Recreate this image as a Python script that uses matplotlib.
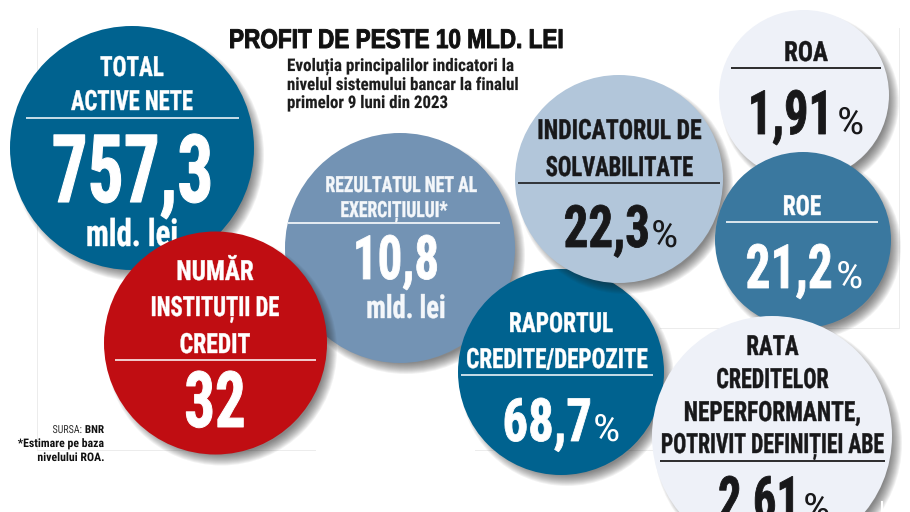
import matplotlib
matplotlib.use("Agg")
import matplotlib.pyplot as plt
from matplotlib.patches import Circle
from matplotlib.patheffects import AbstractPathEffect
from matplotlib.transforms import Affine2D

# text of the bubbles
total_title = ["TOTAL", "ACTIVE NETE"]
total_value = "757,3"
total_unit = "mld. lei"
rezultat_title = ["REZULTATUL NET AL", "EXERCIȚIULUI*"]
rezultat_value = "10,8"
rezultat_unit = "mld. lei"
institutii_title = ["NUMĂR", "INSTITUȚII DE", "CREDIT"]
institutii_value = "32"
solv_title = ["INDICATORUL DE", "SOLVABILITATE"]
solv_value = "22,3"
roa_title = "ROA"
roa_value = "1,91"
roe_title = "ROE"
roe_value = "21,2"
raport_title = ["RAPORTUL", "CREDITE/DEPOZITE"]
raport_value = "68,7"
rata_title = ["RATA", "CREDITELOR", "NEPERFORMANTE,", "POTRIVIT DEFINIȚIEI ABE"]
rata_value = "2,61"

title = "PROFIT DE PESTE 10 MLD. LEI"
subtitle = ["Evoluția principalilor indicatori la",
            "nivelul sistemului bancar la finalul",
            "primelor 9 luni din 2023"]
notes = ["*Estimare pe baza", "nivelului ROA."]

BLUE = "#00628f"
WHITE = "white"
DARK = "#18181a"
NARROW = "Roboto Condensed"

fig = plt.figure(figsize=(9.1, 5.12), dpi=100)
ax = fig.add_axes([0, 0, 1, 1])
ax.set_xlim(0, 910)
ax.set_ylim(512, 0)
ax.axis("off")


class Squeeze(AbstractPathEffect):
    # the page uses a narrower face than anything installed, so squeeze the glyphs
    def __init__(self, x0, sx, stroke=0):
        super().__init__()
        self.x0, self.sx, self.stroke = x0, sx, stroke

    def draw_path(self, renderer, gc, tpath, affine, rgbFace=None):
        t = affine + Affine2D().translate(-self.x0, 0).scale(self.sx, 1).translate(self.x0, 0)
        gc0 = renderer.new_gc()
        gc0.copy_properties(gc)
        gc0.set_linewidth(self.stroke)
        if self.stroke:
            gc0.set_foreground(rgbFace)
        renderer.draw_path(gc0, tpath, t, rgbFace)
        gc0.restore()


def bubble(x, y, r, color, z):
    # soft shadow to the lower right
    for i in range(12):
        ax.add_patch(Circle((x + 6, y + 7), r + 4 - i, color="#202020", alpha=0.06, lw=0, zorder=z))
    ax.add_patch(Circle((x, y), r, color=color, lw=0, zorder=z + 0.1))


def label(x, y, s, size, color, z, sx=1.0, ha="center", weight="bold", family=NARROW, stroke=0.3):
    x0 = ax.transData.transform((x, 0))[0]
    ax.text(x, y, s, fontsize=size, color=color, ha=ha, va="baseline", weight=weight,
            family=family, zorder=z + 0.2, path_effects=[Squeeze(x0, sx, stroke)])


def rule(x0, x1, y, color, z, lw=1.3):
    ax.plot([x0, x1], [y, y], color=color, lw=lw, zorder=z + 0.2, solid_capstyle="butt")


def percent(x, y, color, z):
    label(x, y, "%", 27, color, z, sx=1.15, ha="left", weight="normal", stroke=0)


# faint frame left over from the page
for xs, ys in [([37, 37], [28, 450]), ([37, 315], [450, 450]), ([475, 655], [450, 450]),
               ([899, 899], [28, 328]), ([660, 899], [328, 328])]:
    ax.plot(xs, ys, color="#ececec", lw=0.7, zorder=0)

# titlu
label(229, 48, title, 19.5, "#111111", 20, sx=0.833, ha="left", family="Liberation Sans", stroke=0.7)
for yy, line, sx in zip([71, 90, 108], subtitle, [0.985, 0.97, 0.97]):
    label(287, yy, line, 12.5, "#1c1c1c", 20, sx=sx, ha="left", stroke=0.1)

# total active
bubble(132, 148, 122, BLUE, 1)
for yy, line, sx in zip([76, 110], total_title, [0.83, 0.81]):
    label(132, yy, line, 20, WHITE, 1, sx=sx)
rule(26, 239, 118, "#d8e8f0", 1)
label(132.5, 202, total_value, 68, WHITE, 1, sx=0.755, stroke=0.8)
label(132, 246, total_unit, 27, WHITE, 1, sx=0.82)

# rezultat net
bubble(400, 248, 115, "#7393b4", 2)
for xx, yy, line, sx in zip([401.5, 394], [192, 217], rezultat_title, [0.80, 0.79]):
    label(xx, yy, line, 16, "#f4f7fa", 2, sx=sx)
rule(288, 500, 223, "#f0f4f8", 2)
label(396, 279, rezultat_value, 44, WHITE, 2, sx=0.80, stroke=0.6)
label(406, 318, rezultat_unit, 23, "#f4f7fa", 2, sx=0.83)

# institutii de credit
bubble(215.5, 343, 111.5, "#c00d12", 3)
for yy, line, sx in zip([280, 316, 353], institutii_title, [0.90, 0.81, 0.85]):
    label(215, yy, line, 20, WHITE, 3, sx=sx)
rule(115, 316, 360, "#f6dcdc", 3)
label(215, 427, institutii_value, 56, WHITE, 3, sx=0.78, stroke=0.7)

# raport credite/depozite
bubble(561, 372, 103, BLUE, 4)
for xx, yy, line, sx in zip([561, 557], [332, 368], raport_title, [0.84, 0.83]):
    label(xx, yy, line, 20, WHITE, 4, sx=sx)
rule(461, 653, 375, "#d8e8f0", 4)
label(592, 441, raport_value, 43, WHITE, 4, sx=0.85, ha="right", stroke=0.6)
percent(593, 441, WHITE, 4)

# solvabilitate
bubble(619, 179, 104, "#b2c6da", 5)
for yy, line, sx in zip([139, 176], solv_title, [0.855, 0.81]):
    label(619.5, yy, line, 20, DARK, 5, sx=sx)
rule(518, 720, 183, "#26282c", 5)
label(650, 247, solv_value, 42, DARK, 5, sx=0.84, ha="right", stroke=0.6)
percent(651, 247, DARK, 5)

# ROA
bubble(804, 95, 85, "#eef1f8", 6)
label(806, 61, roa_title, 20, DARK, 6, sx=0.9)
rule(731, 881, 68, "#1c1c1c", 6)
label(833, 134, roa_value, 44, DARK, 6, sx=0.79, ha="right", stroke=0.6)
percent(837, 134, DARK, 6)

# ROE
bubble(803, 240, 88, "#3a789f", 7)
label(802, 215, roe_title, 20, WHITE, 7, sx=0.84)
rule(726, 878, 222, "#e8f0f5", 7)
label(833, 288, roe_value, 44, WHITE, 7, sx=0.81, ha="right", stroke=0.6)
percent(836, 288, WHITE, 7)

# rata creditelor neperformante
bubble(772, 436, 120, "#eef1f8", 8)
for yy, line, sx in zip([355, 388, 421, 453], rata_title, [0.82, 0.79, 0.84, 0.78]):
    label(772.5, yy, line, 20, DARK, 8, sx=sx)
rule(660, 885, 461, "#1c1c1c", 8)
label(800, 520, rata_value, 44, DARK, 8, sx=0.76, ha="right", stroke=0.6)
percent(803, 520, DARK, 8)
ax.plot([882, 882], [502, 512], color="white", lw=1.5, zorder=9)

# sursa
label(82, 433, "SURSA:", 8, "#333333", 10, sx=0.9, ha="right", weight="normal", stroke=0)
label(104, 433, "BNR", 8, "#111111", 10, ha="right", stroke=0)
for yy, line in zip([447, 461], notes):
    label(104, yy, line, 8.5, "#111111", 10, ha="right", stroke=0)

fig.savefig("out.png", dpi=100)
